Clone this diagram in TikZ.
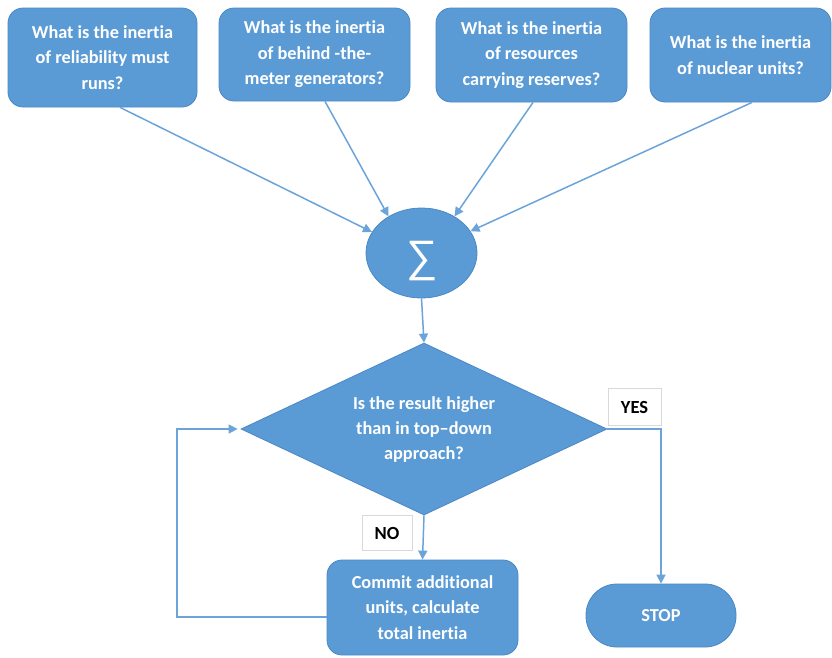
\documentclass[tikz,border=0pt]{standalone}
\usepackage{fontspec}
\setmainfont{Carlito}[Ligatures={NoCommon,NoRequired,NoContextual,NoRare},Contextuals=NoAlternate]
\newfontfamily\sigfont{Liberation Sans}
\usetikzlibrary{shapes.geometric,arrows.meta}
\definecolor{boxblue}{HTML}{5B9BD5}
\definecolor{edgeblue}{HTML}{4A88C4}
\definecolor{lineblue}{HTML}{6AA4DA}
\definecolor{lblgray}{HTML}{D9D9D9}
\begin{document}
\begin{tikzpicture}[x=1pt,y=-1pt,
  qbox/.style={rounded corners=15pt, fill=boxblue, draw=edgeblue, line width=0.8pt,
    text=white, font=\fontsize{18.3}{25.5}\selectfont\bfseries, align=center, inner sep=0pt},
  wtext/.style={text=white, font=\fontsize{18.3}{25}\selectfont\bfseries, align=center, inner sep=0pt},
  lbl/.style={fill=white, draw=lblgray, line width=0.6pt, font=\fontsize{18.5}{20}\selectfont\bfseries, inner sep=0pt},
  arr/.style={draw=lineblue, line width=1.5pt, -{Triangle[length=9pt,width=9pt]}},
  ln/.style={draw=lineblue, line width=1.5pt}]
\useasboundingbox (0,0) rectangle (832,657);
% top question boxes
\node[qbox, minimum width=189pt, minimum height=99pt] (b1) at (102.5,57.5) {What is the inertia\\of reliability must\\runs?};
\node[qbox, minimum width=191pt, minimum height=93pt] (b2) at (314.5,54.5) {What is the inertia\\of behind -the-\\meter generators?};
\node[qbox, minimum width=191pt, minimum height=94pt] (b3) at (531.5,55) {What is the inertia\\of resources\\carrying reserves?};
\node[qbox, minimum width=181pt, minimum height=94pt] (b4) at (740.5,55) {What is the inertia\\of nuclear units?};
% sum ellipse
\node[ellipse, fill=boxblue, draw=edgeblue, line width=0.8pt, minimum width=111pt, minimum height=90pt, inner sep=0pt] (sig) at (421.5,253) {};
\node[text=white, inner sep=0pt, font=\sigfont\fontsize{44}{44}\selectfont] (sigt) at (422,261) {∑};
% decision diamond
\node[diamond, fill=boxblue, draw=edgeblue, line width=0.8pt, minimum width=366pt, minimum height=172pt, inner sep=0pt] (dia) at (424,429) {};
\node[wtext] (diat) at (424,430) {Is the result higher\\than in top–down\\approach?};
% bottom boxes
\node[qbox, minimum width=191pt, minimum height=95pt] (com) at (422.5,607.5) {Commit additional\\units, calculate\\total inertia};
\node[qbox, rounded corners=31pt, minimum width=150pt, minimum height=63pt] (stop) at (661,615.5) {STOP};
% labels
\node[lbl, minimum width=53pt, minimum height=37pt] (yes) at (634.5,407) {YES};
\node[lbl, minimum width=50pt, minimum height=35pt] (no) at (387,533) {NO};
% connectors
\draw[arr] ([xshift=17.5pt]b1.south) -- (sig.157);
\draw[arr] ([xshift=10.5pt]b2.south) -- (sig.132);
\draw[arr] ([xshift=1.5pt]b3.south) -- (sig.48);
\draw[arr] ([xshift=11.5pt]b4.south) -- (sig.24);
\draw[arr] (sig.south) -- (dia.north);
\draw[arr] (dia.east) -| (stop.north);
\draw[arr] (dia.south) -- (com.north);
\coordinate (lp) at (177,617);
\draw[arr] ([yshift=-9.5pt]com.west) -- (lp) |- ([xshift=-3pt]dia.west);
\end{tikzpicture}
\end{document}
